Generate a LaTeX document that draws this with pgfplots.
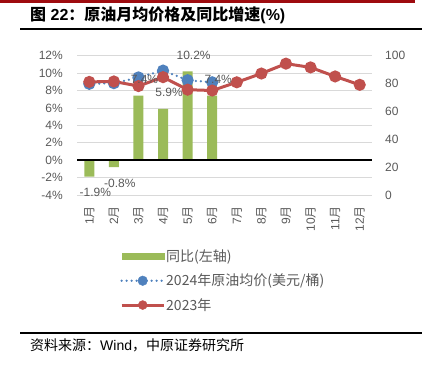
\documentclass[border=0pt]{standalone}
\usepackage{pgfplots}
\usepackage{pgfplotstable}
\pgfplotsset{compat=1.18}
\usepackage{fontspec}
\setmainfont{Liberation Sans}
\newfontfamily\cjk{Noto Sans CJK SC}
\definecolor{barcol}{HTML}{9BBB59}
\definecolor{bluecol}{HTML}{4F81BD}
\definecolor{redcol}{HTML}{C0504D}
\definecolor{gridcol}{HTML}{D9D9D9}
\definecolor{tickcol}{HTML}{595959}
\definecolor{topred}{HTML}{9E0B0F}

\pgfplotstableread{
m yoy
1 -1.9
2 -0.8
3 7.4
4 5.9
5 10.2
6 7.4
}\yoytable
\pgfplotstableread{
m p
1 79.8
2 80.3
3 84.4
4 89.3
5 82.4
6 80.9
}\ptwentyfour
\pgfplotstableread{
m p
1 81.2
2 81.5
3 78.2
4 84.6
5 75.6
6 75.0
7 80.9
8 87.2
9 94.3
10 91.6
11 85.1
12 79.1
}\ptwentythree

\newcommand{\tickfont}{\fontsize{12bp}{14bp}\selectfont}

\begin{document}
\begin{tikzpicture}[x=1bp,y=1bp]
\useasboundingbox (0,0) rectangle (430,366);
\fill[topred] (0,363) rectangle (415,366);
\node[anchor=west, inner sep=0pt] at (30,351) {\fontsize{16bp}{18bp}\selectfont\bfseries{\cjk 图} 22{\cjk ：原油月均价格及同比增速}(\%)};
\draw[black, line width=2bp] (20,336.5) -- (422,336.5);
\draw[black, line width=2bp] (20,33.3) -- (422,33.3);
\node[anchor=west, inner sep=0pt] at (30,21) {\fontsize{14bp}{16bp}\selectfont{\cjk 资料来源：}Wind{\cjk ，中原证券研究所}};

% left axis with bars
\begin{axis}[
  at={(77bp,171bp)}, anchor=south west,
  scale only axis, width=295bp, height=139.3bp,
  xmin=0.5, xmax=12.5, ymin=-4, ymax=12,
  ytick={-4,-2,...,12},
  yticklabels={-4\%,-2\%,0\%,2\%,4\%,6\%,8\%,10\%,12\%},
  xtick={1,...,12},
  xticklabels={1{\cjk 月},2{\cjk 月},3{\cjk 月},4{\cjk 月},5{\cjk 月},6{\cjk 月},7{\cjk 月},8{\cjk 月},9{\cjk 月},10{\cjk 月},11{\cjk 月},12{\cjk 月}},
  axis line style={draw=none}, major tick length=0pt,
  ymajorgrids, grid style={draw=gridcol, line width=0.8bp},
  x tick label style={rotate=90, anchor=east, inner xsep=11bp, font=\tickfont, text=tickcol},
  y tick label style={inner xsep=14bp, font=\tickfont, text=tickcol},
  ybar, bar width=10bp,
]
\addplot[fill=barcol, draw=none] table[x=m, y=yoy] {\yoytable};
\draw[black, line width=1.5bp] (axis cs:0.5,0) -- (axis cs:12.5,0);
\end{axis}

% right axis with lines
\begin{axis}[
  at={(77bp,171bp)}, anchor=south west,
  scale only axis, width=295bp, height=139.3bp,
  xmin=0.5, xmax=12.5, ymin=0, ymax=100,
  axis y line*=right, axis x line=none,
  ytick={0,20,...,100},
  axis line style={draw=none}, major tick length=0pt,
  y tick label style={inner xsep=13bp, font=\tickfont, text=tickcol},
  /pgf/number format/assume math mode=true,
  clip=false,
]
\addplot[bluecol, line width=2.5bp, dash pattern=on 0bp off 5bp, line cap=round,
  mark=*, mark options={solid, fill=bluecol, draw=bluecol}, mark size=4.8bp]
  table[x=m, y=p] {\ptwentyfour};
\addplot[redcol, line width=3bp, mark=*, mark options={fill=redcol, draw=redcol}, mark size=4.5bp]
  table[x=m, y=p] {\ptwentythree};
\end{axis}

% labels overlay and legend
\begin{axis}[
  at={(77bp,171bp)}, anchor=south west,
  scale only axis, width=295bp, height=139.3bp,
  xmin=0.5, xmax=12.5, ymin=-4, ymax=12,
  hide axis, clip=false,
  ybar, bar width=10bp,
  /pgf/number format/assume math mode=true,
  legend style={at={(axis description cs:0.1458,-0.385)}, anchor=north west,
    draw=none, fill=none, inner sep=0pt, row sep=9bp,
    font=\fontsize{14bp}{16bp}\selectfont,
    nodes={inner sep=1bp, text=tickcol}},
  legend cell align=left,
]
\addplot[draw=none, fill=none, forget plot,
  nodes near coords={\pgfmathprintnumber[fixed,precision=1,fixed zerofill]{\pgfplotspointmeta}\%},
  every node near coord/.append style={font=\tickfont, text=tickcol, inner ysep=11.5bp}]
  table[x=m, y=yoy] {\yoytable};
\addlegendimage{legend image code/.code={\fill[barcol] (0bp,-2.8bp) rectangle (42bp,2.8bp);}}
\addlegendentry{\cjk 同比(左轴)}
\addlegendimage{legend image code/.code={\draw[bluecol, line width=2.5bp, dash pattern=on 0bp off 5bp, line cap=round] (0bp,0bp) -- (42bp,0bp); \fill[bluecol] (21bp,0bp) circle (4.8bp);}}
\addlegendentry{\cjk 2024年原油均价(美元/桶)}
\addlegendimage{legend image code/.code={\draw[redcol, line width=3bp] (0bp,0bp) -- (42bp,0bp); \fill[redcol] (21bp,0bp) circle (4.5bp);}}
\addlegendentry{\cjk 2023年}
\end{axis}
\end{tikzpicture}
\end{document}
